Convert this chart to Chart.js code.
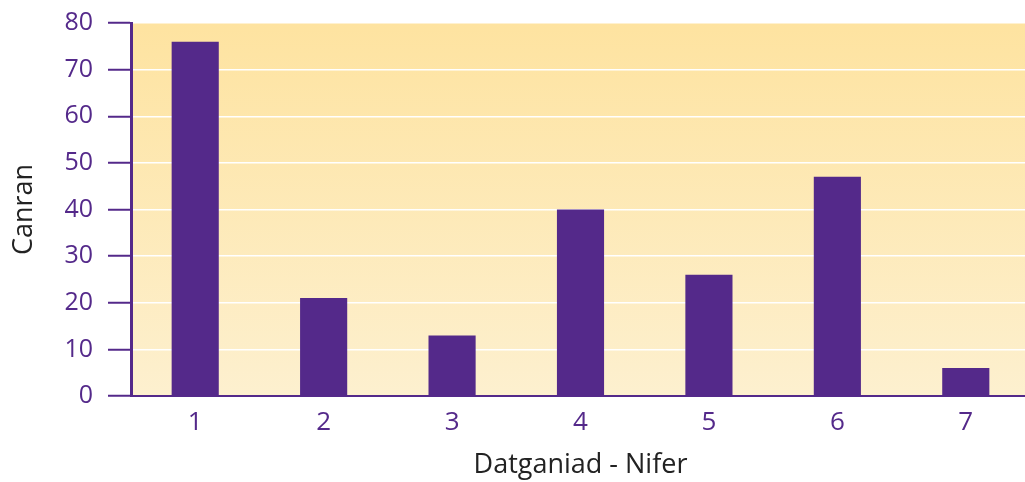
<!DOCTYPE html>
<html>
<head>
<meta charset="utf-8">
<script src="https://cdn.jsdelivr.net/npm/chart.js@4/dist/chart.umd.min.js"></script>
<style>
  html, body { margin: 0; padding: 0; background: #fff; overflow: hidden; }
  #wrap { width: 1030px; height: 482px; }
</style>
</head>
<body>
<div id="wrap"><canvas id="barChart"></canvas></div>
<script>
var categories = ['1', '2', '3', '4', '5', '6', '7'];
var counts = [76, 21, 13, 40, 26, 47, 6];
var yTicks = [0, 10, 20, 30, 40, 50, 60, 70, 80];

var purple = '#54298a';

// yellow gradient behind the plot area
var plotBackground = {
    id: 'plotBackground',
    beforeDraw: function(chart) {
        var a = chart.chartArea;
        var ctx = chart.ctx;
        var g = ctx.createLinearGradient(0, a.top, 0, a.bottom);
        g.addColorStop(0, '#fee3a0');
        g.addColorStop(1, '#fdf0cf');
        ctx.save();
        ctx.fillStyle = g;
        ctx.fillRect(a.left, a.top, a.right - a.left, a.bottom - a.top);
        ctx.restore();
    }
};

document.addEventListener('DOMContentLoaded', function() {
    var ctx = document.getElementById('barChart').getContext('2d');
    new Chart(ctx, {
        type: 'bar',
        data: {
            labels: categories,
            datasets: [{
                data: counts,
                backgroundColor: purple,
                barPercentage: 0.367,
                categoryPercentage: 1
            }]
        },
        plugins: [plotBackground],
        options: {
            responsive: true,
            maintainAspectRatio: false,
            animation: false,
            layout: { padding: { top: 23, right: 0, left: 0, bottom: 0 } },
            plugins: {
                legend: { display: false },
                tooltip: { enabled: false }
            },
            scales: {
                x: {
                    grid: { display: false, drawTicks: false },
                    border: { color: purple, width: 2 },
                    ticks: { color: purple, padding: 11, font: { family: 'Open Sans', size: 26 } },
                    title: {
                        display: true,
                        text: 'Datganiad - Nifer',
                        color: '#222',
                        font: { family: 'Open Sans', size: 27 },
                        padding: { top: 0, bottom: 0 }
                    },
                    afterFit: function(scale) {
                        scale.height = 86;
                        scale.paddingLeft = 0;
                        scale.paddingRight = 0;
                    }
                },
                y: {
                    min: 0,
                    max: 80,
                    afterBuildTicks: function(scale) {
                        scale.ticks = yTicks.map(function(v) { return { value: v }; });
                    },
                    grid: {
                        color: '#ffffff',
                        lineWidth: 1.5,
                        tickColor: purple,
                        tickLength: 23,
                        tickWidth: 2
                    },
                    border: { color: purple, width: 3 },
                    ticks: { color: purple, padding: 15, font: { family: 'Open Sans', size: 25 } },
                    title: {
                        display: true,
                        text: 'Canran',
                        color: '#222',
                        font: { family: 'Open Sans', size: 27 },
                        padding: { top: 8, bottom: 0 }
                    },
                    afterFit: function(scale) {
                        scale.width = 131;
                        scale.paddingTop = 0;
                        scale.paddingBottom = 0;
                    }
                }
            }
        }
    });
});
</script>
</body>
</html>
